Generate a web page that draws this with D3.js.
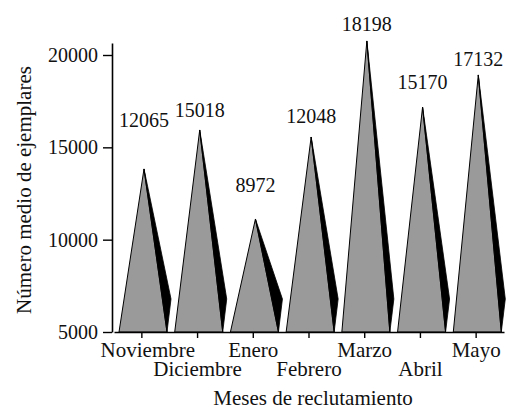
<!DOCTYPE html>
<html>
<head>
<meta charset="utf-8">
<script src="https://cdn.jsdelivr.net/npm/d3@7"></script>
<style>
  html, body { margin: 0; padding: 0; background: #fff; }
  svg text { font-family: "Liberation Serif", "Times New Roman", serif !important; fill: #111; }
</style>
</head>
<body>
<svg id="chart" width="510" height="410" font-family="Liberation Serif"></svg>
<script>
// ---- data ----
const months = ["Noviembre", "Diciembre", "Enero", "Febrero", "Marzo", "Abril", "Mayo"];
const labelValues = [12065, 15018, 8972, 12048, 18198, 15170, 17132];
// heights of the drawn pyramids
const peakValues = [13830, 15940, 11120, 15560, 20760, 17180, 18920];
// level (in axis units) at which each value annotation sits
const labelLevels = [16100, 16640, 12580, 16320, 21300, 18160, 19400];
const yTicks = [5000, 10000, 15000, 20000];

const FONT = "'Liberation Serif', 'Times New Roman', serif";

// ---- layout ----
const svg = d3.select("#chart");
const x = d3.scaleBand().domain(months).range([114, 504]).padding(0);
const y = d3.scaleLinear().domain([5000, 20650]).range([332, 43]);
const base = y(5000);

// pyramids
const g = svg.append("g");
months.forEach((m, i) => {
  const bs = x(m);
  const left = bs + 5, right = bs + 53, px = bs + 30, py = y(peakValues[i]);
  // gray face
  g.append("path")
    .attr("d", `M${left},${base}L${px},${py}L${right},${base}Z`)
    .attr("fill", "#9a9a9a")
    .attr("stroke", "#000")
    .attr("stroke-width", 1)
    .attr("stroke-linejoin", "miter");
  // dark side face
  g.append("path")
    .attr("d", `M${px},${py}L${right + 4},${base - 33}L${right},${base}Z`)
    .attr("fill", "#000")
    .attr("stroke", "#000")
    .attr("stroke-width", 0.8);
  // value label
  svg.append("text")
    .attr("x", px)
    .attr("y", y(labelLevels[i]))
    .attr("text-anchor", "middle")
    .style("font-family", FONT)
    .style("font-size", "20px")
    .text(labelValues[i]);
});

// y axis
const yAxis = svg.append("g")
  .attr("transform", "translate(112,0)")
  .call(d3.axisLeft(y).tickValues(yTicks).tickSize(9).tickPadding(5).tickSizeOuter(0).tickFormat(d3.format("d")))
  .attr("font-family", FONT);
yAxis.select(".domain").attr("stroke", "#000").attr("stroke-width", 1.6);
yAxis.selectAll(".tick line").attr("stroke", "#000").attr("stroke-width", 1.4);
yAxis.selectAll(".tick text")
  .style("font-size", "20px")
  .style("font-family", FONT)
  .attr("fill", "#111");

// x axis
const xAxis = svg.append("g")
  .attr("transform", `translate(0,${base})`)
  .call(d3.axisBottom(x).tickSize(6).tickSizeOuter(0).tickFormat(""));
xAxis.select(".domain").attr("stroke", "#000").attr("stroke-width", 1.6);
xAxis.selectAll(".tick line").attr("stroke", "#000").attr("stroke-width", 1.4);

// month labels, staggered in two rows
svg.append("g").selectAll("text")
  .data(months)
  .join("text")
  .attr("x", (d, i) => x(d) + x.bandwidth() / 2 + (i === 0 ? 6 : 0))
  .attr("y", (d, i) => i % 2 === 0 ? 357 : 376)
  .attr("text-anchor", "middle")
  .style("font-family", FONT)
  .style("font-size", "21px")
  .text(d => d);

// axis titles
svg.append("text")
  .attr("x", 313)
  .attr("y", 405)
  .attr("text-anchor", "middle")
  .style("font-family", FONT)
  .style("font-size", "21px")
  .text("Meses de reclutamiento");

svg.append("text")
  .attr("transform", "translate(31,190) rotate(-90)")
  .attr("text-anchor", "middle")
  .style("font-family", FONT)
  .style("font-size", "21px")
  .text("Número medio de ejemplares");
</script>
</body>
</html>
